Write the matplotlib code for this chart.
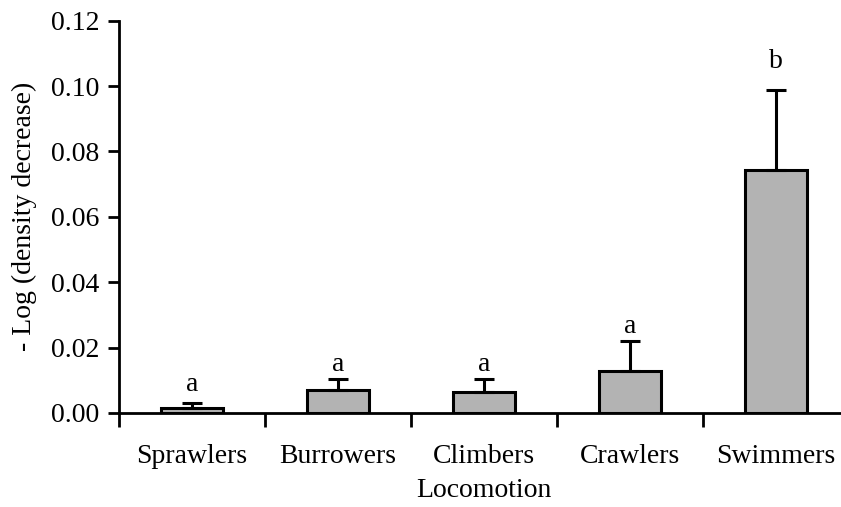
import numpy as np
import matplotlib
matplotlib.use("Agg")
import matplotlib.pyplot as plt

# Data
categories = ["Sprawlers", "Burrowers", "Climbers", "Crawlers", "Swimmers"]
means = [0.0014, 0.0070, 0.0065, 0.0129, 0.0742]
upper_err = [0.0018, 0.0034, 0.0039, 0.0092, 0.0247]
letters = ["a", "a", "a", "a", "b"]
letter_y = [0.0068, 0.0130, 0.0130, 0.0244, 0.1056]
y_ticks = [0.00, 0.02, 0.04, 0.06, 0.08, 0.10, 0.12]

plt.rcParams["font.family"] = ["Liberation Serif", "DejaVu Serif"]
plt.rcParams["font.size"] = 20

fig = plt.figure(figsize=(8.41, 5.07), dpi=100)
ax = fig.add_axes([119 / 841, 1 - 413 / 507, 730 / 841, (413 - 20.7) / 507])

x = np.arange(len(categories))
lower = [0] * len(means)
ax.bar(x, means, width=0.42, color="#b3b3b3", edgecolor="black", linewidth=2.2, zorder=2)
ax.errorbar(x, means, yerr=[lower, upper_err], fmt="none", ecolor="black",
            elinewidth=2.2, capsize=7, capthick=2.2, zorder=3)

for xi, ly, lab in zip(x, letter_y, letters):
    ax.text(xi, ly, lab, ha="center", va="baseline", fontsize=20)

ax.set_xlim(-0.5, len(categories) - 0.5)
ax.set_ylim(0, 0.12)
ax.set_yticks(y_ticks)
ax.set_yticklabels([f"{v:.2f}" for v in y_ticks])

# category labels between boundary ticks
ax.set_xticks(np.arange(len(categories) + 1) - 0.5)
ax.set_xticklabels([])
ax.set_xticks(x, minor=True)
ax.set_xticklabels(categories, minor=True)
ax.tick_params(axis="x", which="minor", length=0, pad=22)
ax.tick_params(axis="x", which="major", length=10, width=2, direction="out")
ax.tick_params(axis="y", length=8, width=2, direction="out", pad=6)

for s in ["top", "right"]:
    ax.spines[s].set_visible(False)
for s in ["left", "bottom"]:
    ax.spines[s].set_linewidth(2)

ax.set_xlabel("Locomotion", labelpad=7)
ax.set_ylabel("- Log (density decrease)", labelpad=10)

fig.savefig("out.png", dpi=100)
